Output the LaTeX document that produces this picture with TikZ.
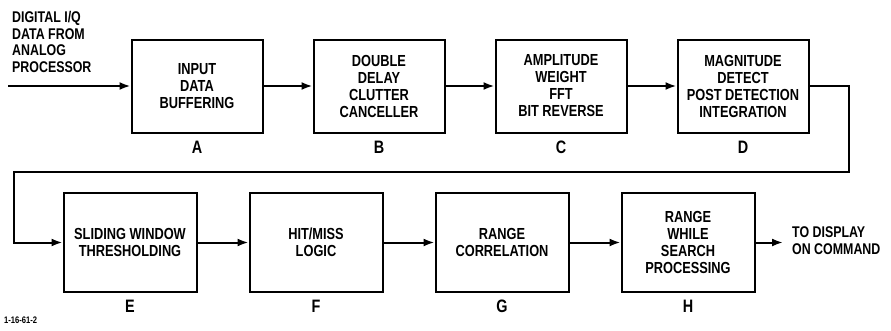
\documentclass[tikz,border=0pt]{standalone}
\usepackage{fontspec}
\newfontfamily\figfont{Liberation Sans}[FakeStretch=0.8]
\usetikzlibrary{arrows.meta,positioning,calc}
\tikzset{
  % Processing block: bold caps inside, letter tag below
  blk/.style={draw, rectangle, minimum width=131pt, minimum height=93pt,
              align=center, line width=2pt, inner sep=2pt,
              font=\figfont\bfseries\fontsize{16}{17}\selectfont},
  blk-low/.style={blk, minimum width=133pt, minimum height=99pt},
  % Letter tag under each block
  tag/.style={font=\figfont\bfseries\fontsize{18}{18}\selectfont, inner sep=1pt},
  % Free text at input / output
  iotext/.style={font=\figfont\bfseries\fontsize{15.5}{16.7}\selectfont, align=left, inner sep=1pt},
  figid/.style={font=\figfont\bfseries\fontsize{9.5}{9.5}\selectfont, inner sep=0pt},
  % Arrows
  flowarr/.style={-{Latex[length=11pt,width=8pt]}, line width=2pt},
  flowline/.style={line width=2pt}
}

\begin{document}
\begin{tikzpicture}[x=1pt, y=-1pt, node distance=49pt]
\useasboundingbox (0,0) rectangle (891,330);

% Top row: A -> B -> C -> D
\node[blk] (bufA) at (197,86) {INPUT\\DATA\\BUFFERING};
\node[blk, right=of bufA] (ddcB) {DOUBLE\\DELAY\\CLUTTER\\CANCELLER};
\node[blk, right=of ddcB] (fftC) {AMPLITUDE\\WEIGHT\\FFT\\BIT REVERSE};
\node[blk, right=of fftC] (magD) {MAGNITUDE\\DETECT\\POST DETECTION\\INTEGRATION};

% Bottom row: E -> F -> G -> H
\node[blk-low] (slwE) at (130,242.5) {SLIDING WINDOW\\THRESHOLDING};
\node[blk-low, right=51pt of slwE] (hitF) {HIT/MISS\\LOGIC};
\node[blk-low, right=51pt of hitF] (rcoG) {RANGE\\CORRELATION};
\node[blk-low, right=51pt of rcoG] (rwsH) {RANGE\\WHILE\\SEARCH\\PROCESSING};

% Letter tags
\node[tag, below=6pt of bufA] (tagA) {A};
\node[tag, below=6pt of ddcB] (tagB) {B};
\node[tag, below=6pt of fftC] (tagC) {C};
\node[tag, below=6pt of magD] (tagD) {D};
\node[tag, below=6pt of slwE] (tagE) {E};
\node[tag, below=6pt of hitF] (tagF) {F};
\node[tag, below=6pt of rcoG] (tagG) {G};
\node[tag, below=6pt of rwsH] (tagH) {H};

% Input and output
\node[iotext, anchor=north west] (srcTxt) at (11,10) {DIGITAL I/Q\\DATA FROM\\ANALOG\\PROCESSOR};
\coordinate (src) at (8,86);
\coordinate (dst) at (783,242.5);
\node[iotext, anchor=west] (dstTxt) at (791,241) {TO DISPLAY\\ON COMMAND};
\node[figid, anchor=west] (figId) at (4,320) {1-16-61-2};

% Arrows
\draw[flowarr] (src) -- (bufA.west);
\draw[flowarr] (bufA.east) -- (ddcB.west);
\draw[flowarr] (ddcB.east) -- (fftC.west);
\draw[flowarr] (fftC.east) -- (magD.west);
\draw[flowarr] (slwE.east) -- (hitF.west);
\draw[flowarr] (hitF.east) -- (rcoG.west);
\draw[flowarr] (rcoG.east) -- (rwsH.west);
\draw[flowarr] (rwsH.east) -- (dst);

% Wrap-around from D to E
\coordinate (fbR) at (849,172);
\coordinate (fbL) at (14,172);
\draw[flowarr] (magD.east) -| (fbR) -- (fbL) |- (slwE.west);

\end{tikzpicture}
\end{document}
